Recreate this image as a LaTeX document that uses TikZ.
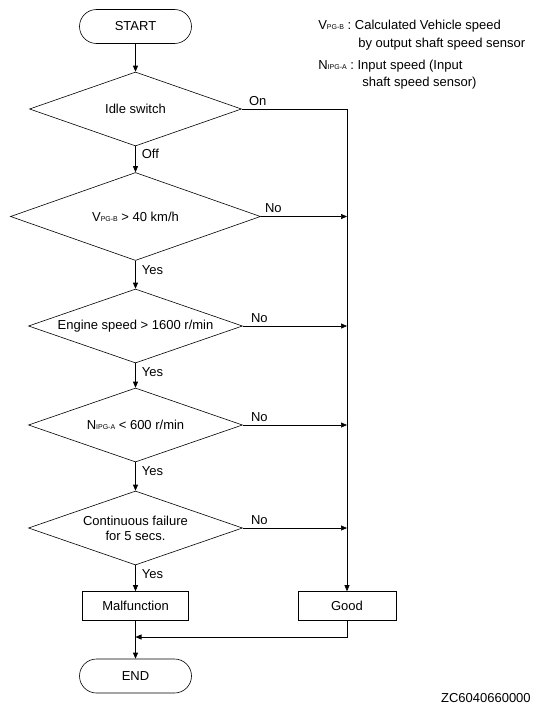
\documentclass[tikz,border=0pt]{standalone}
\usepackage{fontspec}
\setmainfont{Liberation Sans}
\usetikzlibrary{shapes.geometric,arrows.meta}
\newcommand\smallsub[1]{{\fontsize{7}{8}\selectfont #1}}
\begin{document}
\begin{tikzpicture}[x=1pt,y=-1pt,
  font=\fontsize{13}{15}\selectfont,
  line width=0.6pt,
  term/.style={draw, rounded corners=17pt, minimum width=112pt, minimum height=34pt, inner sep=0pt},
  decision/.style={draw, diamond, inner sep=0pt},
  proc/.style={draw, minimum height=29pt, inner sep=0pt},
  arr/.style={-{Triangle[length=6pt,width=5pt]}},
  lbl/.style={anchor=west, inner sep=0pt},
  legend/.style={anchor=base west, inner sep=0pt}]
\useasboundingbox (0,0) rectangle (538,712);

\node[term] (start) at (135.5,26.5) {START};
\node[decision, minimum width=212pt, minimum height=74pt,
      label={center:Idle switch}] (d1) at (135.5,109) {};
\node[decision, minimum width=250pt, minimum height=88pt,
      label={center:V\smallsub{PG-B} > 40 km/h}] (d2) at (135.5,216.5) {};
\node[decision, minimum width=214pt, minimum height=74pt,
      label={center:Engine speed > 1600 r/min}] (d3) at (135.5,326) {};
\node[decision, minimum width=214pt, minimum height=74pt,
      label={center:N\smallsub{IPG-A} < 600 r/min}] (d4) at (135.5,425) {};
\node[decision, minimum width=214pt, minimum height=74pt,
      label={[align=center]center:Continuous failure\\for 5 secs.}] (d5) at (135.5,528) {};
\node[proc, minimum width=106pt] (malf) at (135.5,606) {Malfunction};
\node[proc, minimum width=98pt] (good) at (347,606) {Good};
\node[term] (end) at (135.5,676) {END};

\coordinate (c1) at (347,109);
\coordinate (j2) at (347,216.5);
\coordinate (j3) at (347,326);
\coordinate (j4) at (347,425);
\coordinate (j5) at (347,528);
\coordinate (g1) at (347,637);
\coordinate (m1) at (135.5,637);

\draw[arr] (start) -- (d1);
\draw[arr] (d1) -- (d2);
\draw[arr] (d2) -- (d3);
\draw[arr] (d3) -- (d4);
\draw[arr] (d4) -- (d5);
\draw[arr] (d5) -- (malf);
\draw[arr] (malf) -- (end);
\draw[arr] (d1.east) -- (c1) -- (good.north);
\draw[arr] (d2.east) -- (j2);
\draw[arr] (d3.east) -- (j3);
\draw[arr] (d4.east) -- (j4);
\draw[arr] (d5.east) -- (j5);
\draw[arr] (good.south) -- (g1) -- (m1);

\node[lbl] (on) at ([shift={(7,-8)}]d1.east) {On};
\node[lbl] (off) at ([shift={(6,8)}]d1.south) {Off};
\node[lbl] (no2) at ([shift={(4,-8)}]d2.east) {No};
\node[lbl] (yes2) at ([shift={(6,9)}]d2.south) {Yes};
\node[lbl] (no3) at ([shift={(8,-8)}]d3.east) {No};
\node[lbl] (yes3) at ([shift={(6,9)}]d3.south) {Yes};
\node[lbl] (no4) at ([shift={(8,-8)}]d4.east) {No};
\node[lbl] (yes4) at ([shift={(6,9)}]d4.south) {Yes};
\node[lbl] (no5) at ([shift={(8,-8)}]d5.east) {No};
\node[lbl] (yes5) at ([shift={(6,9)}]d5.south) {Yes};

\node[legend] (l1) at (318,29.5) {V\smallsub{PG-B} : Calculated Vehicle speed};
\node[legend] (l2) at (358,47) {by output shaft speed sensor};
\node[legend] (l3) at (318,69.5) {N\smallsub{IPG-A} : Input speed (Input};
\node[legend] (l4) at (362,86.5) {shaft speed sensor)};

\node[anchor=base east, inner sep=0pt] (code) at (531,702) {ZC6040660000};
\end{tikzpicture}
\end{document}
